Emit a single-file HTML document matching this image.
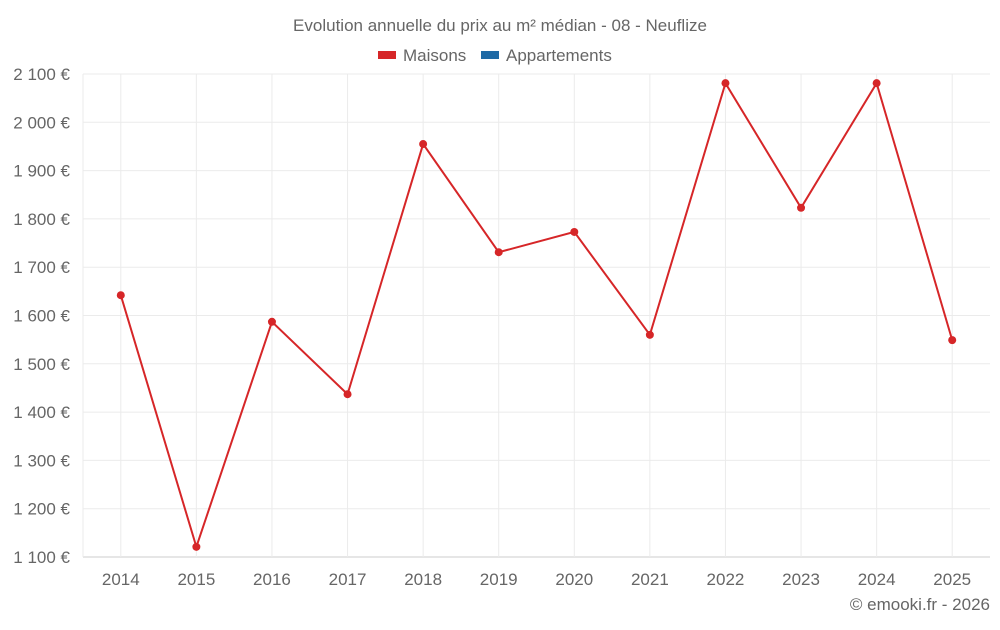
<!DOCTYPE html>
<html><head><meta charset="utf-8"><style>
body{margin:0;background:#fff;font-family:"Liberation Sans",sans-serif;}
svg text{font-family:"Liberation Sans",sans-serif;fill:#666;}
</style></head><body>
<svg id="chart" width="1000" height="625" xmlns="http://www.w3.org/2000/svg">
<text x="500" y="31" text-anchor="middle" font-size="17">Evolution annuelle du prix au m² médian - 08 - Neuflize</text>
<g>
<rect x="378" y="51" width="18" height="8" fill="#d62628"/>
<text x="403" y="61" font-size="17">Maisons</text>
<rect x="481" y="51" width="18" height="8" fill="#1f6aa5"/>
<text x="506" y="61" font-size="17">Appartements</text>
</g>
<g id="grid"></g><g id="axes"></g><g id="series"></g>
<text x="990" y="610" text-anchor="end" font-size="17">© emooki.fr - 2026</text>
</svg>
<script>
const categories=["2014","2015","2016","2017","2018","2019","2020","2021","2022","2023","2024","2025"];
const maisons=[1642,1121,1587,1437,1955,1731,1773,1560,2081,1823,2081,1549];
const yTicks=[1100,1200,1300,1400,1500,1600,1700,1800,1900,2000,2100];
const yTickLabels=["1 100 €","1 200 €","1 300 €","1 400 €","1 500 €","1 600 €","1 700 €","1 800 €","1 900 €","2 000 €","2 100 €"];
const NS="http://www.w3.org/2000/svg";
const L=83,R=990,T=74,B=557,yMin=1100,yMax=2100;
const y=v=>B-(v-yMin)/(yMax-yMin)*(B-T);
const step=(R-L)/categories.length;
const x=i=>L+step*(i+0.5);
function mk(tag,attrs,parent){const e=document.createElementNS(NS,tag);for(const k in attrs)e.setAttribute(k,attrs[k]);parent.appendChild(e);return e;}
const grid=document.getElementById('grid'),axes=document.getElementById('axes'),series=document.getElementById('series');
yTicks.forEach((t,i)=>{
 const l=mk('line',{x1:L,x2:R,y1:y(t),y2:y(t),stroke:i==0?'#ccc':'#ebebeb'},grid);
 
 
 const tx=mk('text',{x:70,y:y(t)+6,'text-anchor':'end','font-size':17},axes);
 tx.textContent=yTickLabels[i];
 
 
});
const lx=mk('line',{x1:L,x2:L,y1:T,y2:B,stroke:'#ebebeb'},grid);


categories.forEach((c,i)=>{
 const l=mk('line',{x1:x(i),x2:x(i),y1:T,y2:B,stroke:'#ebebeb'},grid);
 
 
 const tx=mk('text',{x:x(i),y:585,'text-anchor':'middle','font-size':17},axes);
 tx.textContent=c;
 
 
});
const p=mk('polyline',{points:maisons.map((v,i)=>x(i)+','+y(v)).join(' '),fill:'none',stroke:'#d62628','stroke-width':2},series);


maisons.forEach((v,i)=>{
 const c=mk('circle',{cx:x(i),cy:y(v),r:4,fill:'#d62628'},series);
 
 
});
</script>
</body></html>
